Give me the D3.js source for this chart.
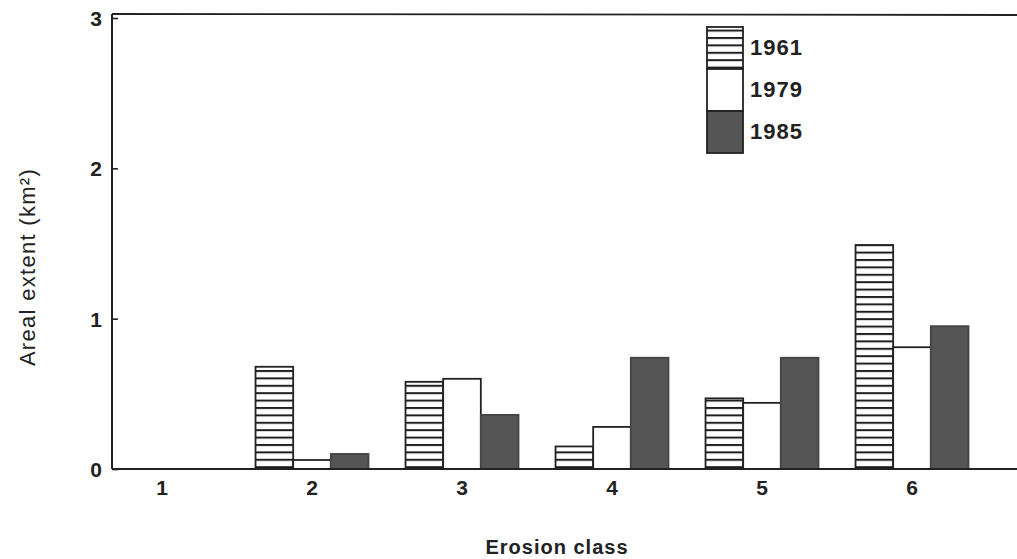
<!DOCTYPE html>
<html>
<head>
<meta charset="utf-8">
<script src="https://cdn.jsdelivr.net/npm/d3@7"></script>
<style>
  html, body { margin: 0; padding: 0; background: #fff; }
  svg { display: block; }
  text { font-family: "Liberation Sans", Arial, sans-serif; fill: #222; }
</style>
</head>
<body>
<svg id="chart" width="1017" height="559"></svg>
<script>
// Erosion classes and areal extent (km²) for each survey year
const classes = ["1", "2", "3", "4", "5", "6"];
const years = ["1961", "1979", "1985"];
const v1961 = [0, 0.68, 0.58, 0.15, 0.47, 1.49];
const v1979 = [0, 0.06, 0.60, 0.28, 0.44, 0.81];
const v1985 = [0, 0.10, 0.36, 0.74, 0.74, 0.95];
const yTicks = [0, 1, 2, 3];

const seriesValues = { "1961": v1961, "1979": v1979, "1985": v1985 };

const svg = d3.select("#chart");
const W = 1017;
const plotLeft = 112, plotTop = 14, plotBottom = 469;

// hatch pattern for 1961
const defs = svg.append("defs");
const pat = defs.append("pattern")
  .attr("id", "hatch")
  .attr("patternUnits", "userSpaceOnUse")
  .attr("width", 10).attr("height", 7.4);
pat.append("rect").attr("width", 10).attr("height", 7.4).attr("fill", "#fff");
pat.append("line").attr("x1", 0).attr("x2", 10).attr("y1", 1).attr("y2", 1)
  .attr("stroke", "#1e1e1e").attr("stroke-width", 2);

const fills = { "1961": "url(#hatch)", "1979": "#fff", "1985": "#555" };

const y = d3.scaleLinear().domain([0, 3]).range([plotBottom, 18]);
const x = d3.scaleBand().domain(classes).range([87, 987])
  .paddingInner(0.247).paddingOuter(0.1235);
const xs = d3.scaleBand().domain(years).range([0, x.bandwidth()]);

// bars
const rows = [];
classes.forEach((c, i) => years.forEach(yr => rows.push({ c, yr, v: seriesValues[yr][i] })));
svg.append("g").selectAll("rect")
  .data(rows.filter(d => d.v > 0))
  .join("rect")
  .attr("x", d => x(d.c) + xs(d.yr))
  .attr("y", d => y(d.v))
  .attr("width", xs.bandwidth())
  .attr("height", d => y(0) - y(d.v))
  .attr("fill", d => fills[d.yr])
  .attr("stroke", d => d.yr === "1985" ? "#444" : "#222")
  .attr("stroke-width", 1.8);

// frame: left axis, bottom axis and top rule
svg.append("line").attr("x1", plotLeft).attr("x2", plotLeft).attr("y1", plotTop).attr("y2", plotBottom)
  .attr("stroke", "#222").attr("stroke-width", 2);
svg.append("line").attr("x1", plotLeft).attr("x2", W).attr("y1", plotBottom).attr("y2", plotBottom)
  .attr("stroke", "#222").attr("stroke-width", 2);
svg.append("line").attr("x1", plotLeft).attr("x2", W).attr("y1", plotTop).attr("y2", plotTop + 1)
  .attr("stroke", "#222").attr("stroke-width", 1.8);

// y axis ticks (inward) and labels
const yAxis = d3.axisRight(y).tickValues(yTicks).tickSize(6).tickFormat(d3.format("d"));
const gy = svg.append("g").attr("transform", `translate(${plotLeft},0)`).call(yAxis);
gy.select(".domain").remove();
gy.selectAll(".tick line").attr("stroke", "#222").attr("stroke-width", 1.6);
gy.selectAll(".tick text")
  .attr("x", -10).attr("text-anchor", "end").attr("dy", "0.35em")
  .style("font-size", "21px").style("font-weight", "bold").attr("fill", "#222");

// x axis labels
const xAxis = d3.axisBottom(x).tickSize(0);
const gx = svg.append("g").attr("transform", `translate(0,${plotBottom})`).call(xAxis);
gx.select(".domain").remove();
gx.selectAll(".tick text").attr("y", 19).attr("dy", "0.35em")
  .style("font-size", "21px").style("font-weight", "bold").attr("fill", "#222");

// axis titles
svg.append("text")
  .attr("transform", "translate(27,267) rotate(-90)")
  .attr("text-anchor", "middle").attr("dy", "0.35em")
  .style("font-size", "22px").style("letter-spacing", "1.3px")
  .text("Areal extent  (km²)");
svg.append("text")
  .attr("x", 557).attr("y", 547).attr("text-anchor", "middle").attr("dy", "0.35em")
  .style("font-size", "20px").style("font-weight", "bold").style("letter-spacing", "1px")
  .text("Erosion class");

// legend
const legY = d3.scaleBand().domain(years).range([27, 153]);
const leg = svg.append("g");
leg.selectAll("rect").data(years).join("rect")
  .attr("x", 707).attr("y", d => legY(d)).attr("width", 36).attr("height", legY.bandwidth())
  .attr("fill", d => fills[d]).attr("stroke", "#222").attr("stroke-width", 1.8);
leg.selectAll("text").data(years).join("text")
  .attr("x", 750).attr("y", d => legY(d) + legY.bandwidth() / 2 - 1).attr("dy", "0.35em")
  .style("font-size", "22px").style("font-weight", "bold").style("letter-spacing", "1px")
  .text(d => d);
</script>
</body>
</html>
